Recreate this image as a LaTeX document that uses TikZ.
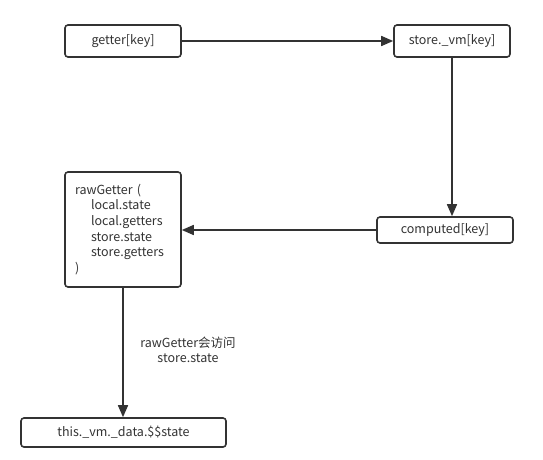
\documentclass[tikz,border=0pt]{standalone}
\usepackage{fontspec}
\setmainfont{Noto Sans CJK SC}
\usetikzlibrary{arrows.meta}
\definecolor{ink}{HTML}{333333}
\begin{document}
\begin{tikzpicture}[x=1pt,y=-1pt,
  box/.style={draw=ink, line width=1.6pt, rounded corners=3pt, fill=white, inner sep=0pt,
    font=\fontsize{12.5}{15.7}\selectfont, text=ink},
  conn/.style={draw=ink, line width=1.6pt, -{Triangle[length=12pt,width=10pt]}},
  lbl/.style={font=\fontsize{12.5}{14.5}\selectfont, text=ink, align=center, inner sep=0pt}]
\useasboundingbox (0,0) rectangle (543,460);
\node[box, minimum width=116pt, minimum height=32pt] (getter) at (123,41) {getter[key]};
\node[box, minimum width=116pt, minimum height=32pt] (store) at (452,41) {store.\_vm[key]};
\node[box, minimum width=136pt, minimum height=26pt] (computed) at (445,230) {computed[key]};
\node[box, minimum width=116pt, minimum height=115pt, inner xsep=10pt, text width=96pt, align=left] (raw) at (123,229.5)
  {rawGetter (\\\hspace{16pt}local.state\\\hspace{16pt}local.getters\\\hspace{16pt}store.state\\\hspace{16pt}store.getters\\)};
\node[box, minimum width=205pt, minimum height=29pt] (data) at (123.5,432.5) {this.\_vm.\_data.\$\$state};
\node[lbl] (note) at (188,350) {rawGetter会访问\\store.state};
\draw[conn] (getter.east) -- (store.west);
\draw[conn] (store.south) -- (store.south |- computed.north);
\draw[conn] (computed.west) -- (raw.east |- computed.west);
\draw[conn] (raw.south) -- (raw.south |- data.north);
\end{tikzpicture}
\end{document}
